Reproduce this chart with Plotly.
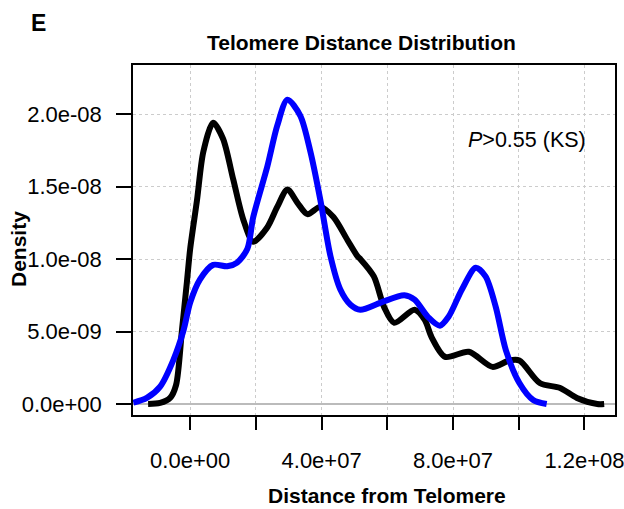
import plotly.graph_objects as go

# Black density curve (distance, density)
black_x = [-1.28e7, -0.915e7, -0.61e7, -0.43e7, -0.25e7, -0.10e7, 0.0, 0.21e7, 0.40e7, 0.70e7,
           1.0e7, 1.31e7, 1.62e7, 1.92e7, 2.35e7, 2.65e7, 2.96e7, 3.26e7, 3.57e7, 3.96e7,
           4.36e7, 4.79e7, 5.09e7, 5.18e7, 5.59e7, 5.90e7, 6.21e7, 6.83e7, 7.14e7, 7.35e7,
           7.76e7, 8.48e7, 9.20e7, 9.71e7, 10.02e7, 10.64e7, 11.26e7, 11.77e7, 12.39e7, 12.6e7]
black_y = [0.0, 0.07e-9, 0.42e-9, 1.3e-9, 5.1e-9, 8.4e-9, 10.7e-9, 14.1e-9, 17.4e-9, 19.4e-9,
           18.3e-9, 15.5e-9, 12.7e-9, 11.2e-9, 12.2e-9, 13.6e-9, 14.8e-9, 13.9e-9, 13.1e-9, 13.6e-9,
           12.9e-9, 11.3e-9, 10.2e-9, 10.0e-9, 8.8e-9, 6.7e-9, 5.6e-9, 6.5e-9, 5.8e-9, 4.6e-9,
           3.25e-9, 3.6e-9, 2.56e-9, 3.0e-9, 3.0e-9, 1.45e-9, 1.1e-9, 0.42e-9, 0.0, 0.0]

# Blue density curve
blue_x = [-1.73e7, -1.32e7, -0.915e7, -0.51e7, -0.20e7, 0.0, 0.30e7, 0.70e7, 1.13e7, 1.43e7,
          1.74e7, 1.92e7, 2.35e7, 2.65e7, 2.96e7, 3.35e7, 3.66e7, 3.96e7, 4.27e7, 4.57e7,
          4.88e7, 5.18e7, 5.80e7, 6.52e7, 6.83e7, 7.24e7, 7.60e7, 7.86e7, 8.27e7, 8.69e7,
          8.99e7, 9.30e7, 9.61e7, 10.02e7, 10.44e7, 10.85e7]
blue_y = [0.09e-9, 0.42e-9, 1.2e-9, 3.05e-9, 5.1e-9, 7.0e-9, 8.6e-9, 9.6e-9, 9.5e-9, 9.76e-9,
          10.7e-9, 12.9e-9, 16.4e-9, 19.2e-9, 21.0e-9, 19.9e-9, 17.4e-9, 14.1e-9, 10.2e-9, 7.9e-9,
          6.85e-9, 6.5e-9, 7.0e-9, 7.5e-9, 7.2e-9, 6.0e-9, 5.4e-9, 6.0e-9, 7.9e-9, 9.4e-9,
          8.8e-9, 6.7e-9, 3.7e-9, 1.45e-9, 0.28e-9, 0.0]

x_tickvals = [0, 2e7, 4e7, 6e7, 8e7, 1e8, 1.2e8]
x_ticktext = ["0.0e+00", "", "4.0e+07", "", "8.0e+07", "", "1.2e+08"]
y_tickvals = [0, 5e-9, 1e-8, 1.5e-8, 2e-8]
y_ticktext = ["0.0e+00", "5.0e-09", "1.0e-08", "1.5e-08", "2.0e-08"]

FONT = "Liberation Sans, Arial, sans-serif"

L, R, T, B = 133, 9, 65, 94
W, H = 624, 509
pw = W - L - R
ph = H - T - B


def px2paper(px, py):
    return (px - L) / pw, (H - B - py) / ph


fig = go.Figure()
fig.add_trace(go.Scatter(x=black_x, y=black_y, mode="lines",
                         line=dict(color="black", width=6, shape="spline", smoothing=0.8),
                         showlegend=False))
fig.add_trace(go.Scatter(x=blue_x, y=blue_y, mode="lines",
                         line=dict(color="#0000ff", width=6, shape="spline", smoothing=0.8),
                         showlegend=False))

anns = []
def add_text(text, px, py, size, xanchor="center", textangle=0):
    x, y = px2paper(px, py)
    anns.append(dict(text=text, x=x, y=y, xref="paper", yref="paper", showarrow=False,
                     xanchor=xanchor, yanchor="middle", textangle=textangle,
                     font=dict(size=size, family=FONT, color="black")))

add_text("<b>Telomere Distance Distribution</b>", 361, 42, 21)
add_text("<b>E</b>", 38, 23, 23)
add_text("<i>P</i>>0.55 (KS)", 588, 140, 21.5, xanchor="right")
add_text("<b>Distance from Telomere</b>", 387, 496, 21)
add_text("<b>Density</b>", 18, 249, 21, textangle=-90)

fig.update_layout(
    width=W, height=H,
    margin=dict(l=L, r=R, t=T, b=B, autoexpand=False),
    paper_bgcolor="white", plot_bgcolor="white",
    font=dict(family=FONT, color="black", size=22),
    xaxis=dict(range=[-1.74e7, 1.293e8], tickvals=x_tickvals, ticktext=x_ticktext,
               ticks="outside", ticklen=13, tickwidth=1.5, tickcolor="black",
               showline=True, linecolor="black", linewidth=1.5, mirror=True,
               showgrid=True, gridcolor="#cccccc", griddash="dot", gridwidth=1,
               zeroline=False, ticklabelstandoff=12, automargin=False,
               ticklabeloverflow="allow",
               tickfont=dict(size=22, family=FONT)),
    yaxis=dict(range=[-7.6e-10, 2.339e-8], tickvals=y_tickvals, ticktext=y_ticktext,
               ticks="outside", ticklen=15, tickwidth=1.5, tickcolor="black",
               showline=True, linecolor="black", linewidth=1.5, mirror=True,
               showgrid=True, gridcolor="#cccccc", griddash="dot", gridwidth=1,
               zeroline=True, zerolinecolor="#bbbbbb", zerolinewidth=1.5,
               ticklabelstandoff=10, automargin=False, ticklabeloverflow="allow",
               tickfont=dict(size=22, family=FONT)),
    annotations=anns,
)

fig.write_html("out.html")
